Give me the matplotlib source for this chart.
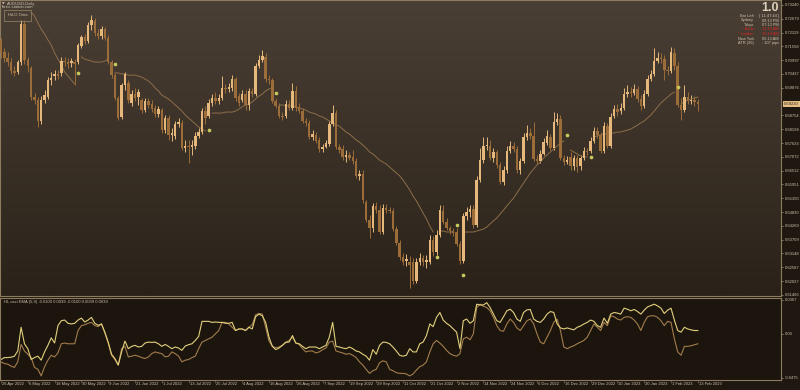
import numpy as np
import matplotlib
matplotlib.use("Agg")
import matplotlib.pyplot as plt
from matplotlib.colors import LinearSegmentedColormap
from matplotlib.transforms import blended_transform_factory

plt.rcParams['font.family'] = ['Liberation Sans', 'DejaVu Sans']

# ---------------- data (prices in 0.0001 units) ----------------
opens = [7182, 7133, 7109, 7092, 7056, 7052, 7092, 7247, 7100, 7068,
         6950, 6938, 6853, 6938, 6950, 7019, 7035, 7044, 7048, 7096,
         7092, 7088, 7092, 7092, 7157, 7194, 7178, 7242, 7259, 7210,
         7198, 7226, 7190, 7092, 7039, 6946, 6869, 6999, 7007, 6926,
         6962, 6950, 6938, 6897, 6934, 6922, 6906, 6881, 6897, 6816,
         6865, 6796, 6792, 6841, 6845, 6743, 6751, 6747, 6751, 6792,
         6808, 6893, 6873, 6926, 6946, 6934, 6946, 6987, 6983, 6987,
         7023, 6954, 6938, 6962, 6918, 6975, 6962, 7076, 7100, 7113,
         7023, 7019, 6934, 6914, 6873, 6873, 6922, 6906, 6975, 6910,
         6893, 6853, 6845, 6788, 6796, 6776, 6739, 6747, 6759, 6841,
         6885, 6747, 6739, 6707, 6715, 6707, 6690, 6630, 6638, 6524,
         6451, 6418, 6508, 6491, 6402, 6500, 6491, 6487, 6414, 6357,
         6301, 6284, 6280, 6280, 6203, 6280, 6297, 6280, 6280, 6370,
         6321, 6390, 6487, 6443, 6418, 6406, 6402, 6353, 6284, 6467,
         6483, 6495, 6431, 6613, 6694, 6751, 6751, 6703, 6727, 6674,
         6605, 6654, 6731, 6751, 6739, 6654, 6690, 6788, 6804, 6792,
         6699, 6690, 6719, 6763, 6788, 6743, 6849, 6861, 6703, 6686,
         6707, 6670, 6703, 6670, 6703, 6731, 6731, 6772, 6812, 6796,
         6731, 6832, 6751, 6873, 6901, 6893, 6906, 6962, 6970, 6966,
         6983, 6942, 6914, 6962, 7023, 7044, 7096, 7109, 7104, 7060,
         7056, 7129, 7076, 6918, 6897, 6950, 6934, 6938, 6930]
highs = [7190, 7149, 7133, 7109, 7076, 7100, 7263, 7263, 7113, 7076,
         6966, 6950, 6954, 6979, 7031, 7052, 7060, 7060, 7113, 7113,
         7109, 7109, 7104, 7169, 7202, 7206, 7255, 7283, 7271, 7226,
         7238, 7234, 7202, 7100, 7048, 6954, 7007, 7052, 7019, 6979,
         6987, 6983, 6946, 6946, 6946, 6938, 6918, 6914, 6906, 6877,
         6877, 6824, 6853, 6865, 6857, 6776, 6776, 6776, 6808, 6824,
         6906, 6914, 6942, 6962, 6970, 6962, 7035, 7003, 7007, 7039,
         7031, 6966, 6979, 6979, 6987, 6987, 7088, 7121, 7141, 7129,
         7039, 7027, 6946, 6926, 6889, 6938, 6938, 7007, 6995, 6926,
         6906, 6865, 6857, 6816, 6808, 6788, 6759, 6776, 6853, 6918,
         6897, 6759, 6755, 6735, 6727, 6735, 6703, 6654, 6654, 6532,
         6471, 6520, 6524, 6512, 6516, 6516, 6504, 6500, 6426, 6370,
         6317, 6313, 6305, 6297, 6297, 6317, 6309, 6309, 6390, 6386,
         6410, 6512, 6512, 6459, 6426, 6418, 6418, 6366, 6479, 6504,
         6512, 6512, 6630, 6743, 6788, 6788, 6776, 6743, 6735, 6686,
         6670, 6751, 6772, 6767, 6751, 6703, 6804, 6836, 6824, 6849,
         6715, 6735, 6784, 6816, 6800, 6889, 6885, 6877, 6715, 6711,
         6727, 6715, 6715, 6715, 6747, 6743, 6788, 6828, 6828, 6808,
         6849, 6845, 6885, 6918, 6922, 6926, 6987, 6999, 6991, 7003,
         6995, 6958, 6979, 7039, 7060, 7149, 7133, 7129, 7121, 7076,
         7153, 7149, 7092, 6946, 6999, 6970, 6958, 6954, 6942]
lows = [7109, 7092, 7076, 7044, 7035, 7044, 7080, 7084, 7052, 6938,
        6922, 6828, 6841, 6926, 6942, 6999, 7019, 7023, 7035, 7076,
        7068, 7072, 6999, 7084, 7149, 7165, 7169, 7222, 7198, 7186,
        7186, 7182, 7084, 7027, 6938, 6857, 6861, 6979, 6926, 6914,
        6934, 6918, 6885, 6889, 6906, 6889, 6869, 6869, 6804, 6804,
        6776, 6772, 6780, 6828, 6735, 6727, 6682, 6715, 6739, 6784,
        6800, 6841, 6865, 6914, 6922, 6922, 6938, 6966, 6970, 6975,
        6934, 6914, 6930, 6897, 6897, 6950, 6954, 7068, 7092, 7011,
        7003, 6926, 6906, 6865, 6857, 6865, 6897, 6897, 6893, 6885,
        6845, 6832, 6780, 6776, 6763, 6727, 6727, 6743, 6751, 6832,
        6739, 6723, 6694, 6686, 6694, 6678, 6621, 6613, 6520, 6443,
        6378, 6402, 6479, 6394, 6394, 6479, 6479, 6406, 6349, 6288,
        6268, 6264, 6175, 6191, 6195, 6268, 6264, 6256, 6272, 6305,
        6309, 6382, 6435, 6410, 6394, 6386, 6345, 6272, 6276, 6451,
        6463, 6418, 6422, 6605, 6682, 6735, 6694, 6686, 6662, 6597,
        6593, 6642, 6723, 6727, 6642, 6638, 6682, 6776, 6780, 6690,
        6678, 6682, 6715, 6755, 6735, 6735, 6836, 6694, 6674, 6678,
        6654, 6654, 6646, 6654, 6694, 6715, 6723, 6763, 6784, 6723,
        6723, 6743, 6743, 6865, 6873, 6881, 6897, 6950, 6950, 6958,
        6930, 6897, 6906, 6954, 7015, 7035, 7088, 7088, 7019, 7039,
        7048, 7060, 6910, 6857, 6889, 6922, 6922, 6914, 6893]
closes = [7133, 7109, 7092, 7056, 7048, 7092, 7247, 7100, 7076, 6950,
          6938, 6853, 6938, 6958, 7019, 7027, 7044, 7035, 7096, 7092,
          7084, 7096, 7084, 7161, 7194, 7178, 7242, 7263, 7210, 7198,
          7226, 7190, 7092, 7039, 6946, 6865, 6999, 7044, 6938, 6962,
          6946, 6970, 6897, 6934, 6918, 6901, 6881, 6901, 6816, 6865,
          6796, 6804, 6841, 6849, 6743, 6751, 6747, 6755, 6792, 6808,
          6893, 6865, 6926, 6946, 6934, 6946, 6987, 6983, 6991, 7023,
          6946, 6926, 6962, 6918, 6975, 6962, 7076, 7100, 7117, 7023,
          7019, 6934, 6914, 6873, 6869, 6922, 6906, 6975, 6906, 6893,
          6853, 6845, 6788, 6800, 6772, 6739, 6747, 6763, 6841, 6885,
          6747, 6735, 6707, 6715, 6703, 6690, 6630, 6638, 6532, 6451,
          6418, 6508, 6491, 6402, 6500, 6491, 6487, 6414, 6357, 6301,
          6280, 6292, 6268, 6203, 6280, 6297, 6280, 6288, 6370, 6321,
          6390, 6491, 6443, 6418, 6406, 6398, 6353, 6284, 6467, 6483,
          6495, 6431, 6613, 6694, 6751, 6755, 6703, 6727, 6674, 6605,
          6654, 6731, 6751, 6739, 6654, 6690, 6788, 6804, 6792, 6699,
          6690, 6719, 6767, 6792, 6743, 6849, 6861, 6703, 6686, 6694,
          6670, 6703, 6666, 6703, 6731, 6727, 6772, 6812, 6796, 6731,
          6832, 6751, 6869, 6901, 6889, 6906, 6962, 6970, 6966, 6983,
          6942, 6914, 6962, 7023, 7044, 7096, 7109, 7104, 7060, 7056,
          7133, 7076, 6918, 6897, 6950, 6934, 6938, 6930, 6922]

# HiLo line (None = break)
hilo_line = [None, None, None, None, None, None, None, None, None, 7295,
             7279, 7251, 7226, 7206, 7182, 7161, 7129, 7104, 7080, 7052,
             7035, 7019, 7003, None, 7113, 7104, 7100, 7096, 7092, 7092,
             7092, 7096, 7104, None, 7048, 7048, 7044, 7044, 7039, 7039,
             7039, 7035, 7031, 7023, 7015, 7003, 6987, 6975, 6958, 6950,
             6942, 6930, 6918, 6906, 6893, 6877, 6865, 6853, 6841, 6828,
             6820, 6812, None, 6885, 6885, 6885, 6885, 6889, 6889, 6889,
             6893, 6901, 6910, 6918, 6922, 6930, 6942, 6954, 6962, 6975,
             6983, 6987, None, 6918, 6918, 6914, 6914, 6914, 6910, 6906,
             6901, 6897, 6889, 6885, 6881, 6873, 6869, 6861, 6853, 6845,
             6836, 6832, 6820, 6808, 6800, 6788, 6776, 6767, 6755, 6743,
             6727, 6719, 6707, 6694, 6686, 6678, 6666, 6654, 6642, 6630,
             6613, 6593, 6573, 6548, 6528, 6504, 6479, 6455, 6426, 6402,
             None, 6406, 6406, 6402, 6402, 6402, None, None, 6402, 6402,
             6402, 6402, 6406, 6410, 6414, 6422, 6435, 6447, 6459, 6475,
             6491, 6508, 6524, 6540, 6560, 6581, 6601, 6621, 6642, 6658,
             6674, 6686, 6703, 6715, 6727, 6739, 6751, 6763, 6772, None,
             6735, 6727, 6719, 6711, 6707, 6707, None, 6788, 6792, 6796,
             6800, 6800, 6804, 6804, 6808, 6808, 6812, 6816, 6820, 6828,
             6836, 6845, 6853, 6865, 6877, 6893, 6910, 6926, 6938, 6950,
             6962, 6970, None, 6922, 6930, 6938, 6942, 6946, 6950]
signal_bars = [23, 34, 62, 82, 130, 136, 138, 169, 176, 202]
signal_prices = [7048, 7084, 6816, 6966, 6301, 6431, 6227, 6796, 6707, 6991]

# oscillator lines (0.0001 units)
osc_fast = [-276, -255, -255, -251, -240, -184, 72, -106, -159, -276,
            -255, -240, -283, -194, -123, -42, -98, 90, 143, 150,
            115, 108, 115, 150, 171, 129, 150, 179, 115, 93,
            108, 19, -88, -219, -265, -336, -194, -77, -159, -134,
            -123, -141, -134, -98, -88, -91, -88, -106, -134, -113,
            -134, -159, -141, -152, -177, -130, -116, -106, -70, -27,
            136, 136, 136, 125, 129, 125, 125, 115, 115, 125,
            37, 54, 54, 37, 72, 54, 186, 214, 196, 125,
            -35, -134, -169, -152, -123, -91, -88, -17, -98, -106,
            -134, -159, -141, -141, -141, -159, -141, -123, -35, 125,
            -134, -141, -152, -159, -141, -159, -184, -194, -219, -240,
            -283, -169, -219, -123, -88, -91, -106, -141, -184, -230,
            -240, -230, -159, -194, -194, -106, -88, -17, 108, 79,
            179, 232, 150, 115, 90, 54, 19, -159, 143, 161,
            115, 143, 321, 313, 313, 338, 285, 214, 143, 125,
            186, 250, 267, 232, 161, 136, 232, 260, 264, 161,
            136, 125, 161, 214, 242, 232, 108, 65, 54, 65,
            54, 44, 72, 86, 108, 125, 150, 136, 90, 72,
            171, 115, 214, 232, 225, 214, 278, 267, 250, 264,
            242, 214, 257, 292, 306, 321, 303, 278, 221, 257,
            278, 150, 37, 19, 72, 54, 44, 37, 37]
osc_slow = [-301, -319, -326, -347, -361, -301, -113, -184, -219, -255,
            -361, -382, -453, -354, -283, -230, -248, -205, -106, -98,
            -106, -106, -106, 37, 90, 100, 115, 125, 90, 79,
            108, 8, -98, -230, -276, -336, -159, -134, -248, -240,
            -230, -240, -255, -265, -248, -212, -194, -205, -212, -248,
            -240, -194, -212, -240, -301, -283, -276, -255, -240, -159,
            -88, -70, -52, -35, 1, 37, 125, 125, 108, 72,
            37, 54, 54, 37, 72, 100, 207, 221, 214, 72,
            -77, -134, -148, -141, -123, -88, -70, -35, -98, -113,
            -159, -194, -184, -184, -205, -194, -169, -152, -88, -77,
            -184, -194, -205, -219, -212, -230, -255, -301, -336, -382,
            -425, -397, -382, -311, -290, -301, -382, -397, -418, -425,
            -425, -432, -453, -432, -390, -354, -336, -301, -194, -106,
            -70, -98, -134, -177, -212, -230, -240, -212, -52, -35,
            -63, 1, 285, 321, 299, 285, 250, 179, 90, 37,
            29, 108, 161, 125, 65, 37, 90, 143, 161, 108,
            1, -88, -106, -35, 37, 125, 161, 37, -141, -159,
            -141, -127, -106, -88, -70, -35, 37, 108, 72, 37,
            125, 90, 196, 186, 161, 150, 179, 186, 179, 150,
            108, 37, 125, 186, 196, 196, 179, 143, 90, 136,
            125, -52, -194, -230, -134, -134, -127, -116, -106]

# right-axis price labels (0.69315 is hidden behind the current-price box)
price_tick_labels = ['0.73240', '0.72679', '0.72119', '0.71558', '0.70997', '0.70437',
                     '0.69876', '0.68754', '0.68194', '0.67633', '0.67072',
                     '0.66512', '0.65951', '0.65390', '0.64830', '0.64269', '0.63709',
                     '0.63148', '0.62587', '0.62027', '0.61466']
osc_tick_labels = ['0.0367', '0.00', '-0.0475']
date_labels = ['26 Apr 2022', '6 May 2022', '18 May 2022', '30 May 2022', '9 Jun 2022',
               '21 Jun 2022', '1 Jul 2022', '13 Jul 2022', '25 Jul 2022', '4 Aug 2022',
               '16 Aug 2022', '26 Aug 2022', '7 Sep 2022', '19 Sep 2022', '29 Sep 2022',
               '11 Oct 2022', '21 Oct 2022', '2 Nov 2022', '14 Nov 2022', '24 Nov 2022',
               '6 Dec 2022', '16 Dec 2022', '29 Dec 2022', '10 Jan 2023', '20 Jan 2023',
               '1 Feb 2023', '13 Feb 2023']
info_left = ['Bar Left', 'Sydney', 'Tokyo', '* Berlin', '* London', 'New York', 'ATR (20)']
info_right = [': [ 11:47:44 ]', '09:13 PM', '07:13 PM', '11:13 AM', '10:13 AM', '05:13 AM', ': 107 pips']
info_red = [False, False, False, True, True, False, False]

# ---------------- styling ----------------
W, H = 800, 390
BG = '#1f1810'
BORDER = '#8c7b5f'
TXT = '#cdc1ab'
BULL = '#e6b87c'
BEAR = '#9c6c39'

fig = plt.figure(figsize=(W / 100, H / 100), dpi=100)
fig.patch.set_facecolor(BG)


def rect(x0, y0, x1, y1):
    return [x0 / W, 1 - y1 / H, (x1 - x0) / W, (y1 - y0) / H]


ax = fig.add_axes(rect(0, 0, 781, 296))
ax2 = fig.add_axes(rect(0, 298, 781, 380))

o = np.array(opens) / 1e4
h = np.array(highs) / 1e4
l = np.array(lows) / 1e4
c = np.array(closes) / 1e4
n = len(c)
xs = np.arange(n)

px_bar = 3.35
xlo = -1 / px_bar
xhi = xlo + 781 / px_bar
ylo, yhi = 0.61422, 0.73440

# gradient background
cmap = LinearSegmentedColormap.from_list('bg', ['#2a2219', '#4a3f35'])
ax.imshow(np.linspace(0, 1, 256).reshape(-1, 1), extent=[xlo, xhi, ylo, yhi],
          aspect='auto', origin='lower', cmap=cmap, zorder=0)

up = c >= o
ax.vlines(xs[up], l[up], h[up], color=BULL, lw=0.7, zorder=2)
ax.vlines(xs[~up], l[~up], h[~up], color=BEAR, lw=0.7, zorder=2)
body = np.maximum(np.abs(c - o), 0.00012)
bot = np.minimum(o, c)
ax.bar(xs[up], body[up], bottom=bot[up], width=0.72, color=BULL, lw=0, zorder=3)
ax.bar(xs[~up], body[~up], bottom=bot[~up], width=0.72, color=BEAR, lw=0, zorder=3)

ma = np.array([np.nan if v is None else v / 1e4 for v in hilo_line])
ax.plot(xs, ma, color='#8d6e4a', lw=0.7, zorder=2.5)
ax.scatter(signal_bars, np.array(signal_prices) / 1e4, s=7, color='#c8c85c',
           lw=0, zorder=4)

ax.set_xlim(xlo, xhi)
ax.set_ylim(ylo, yhi)
ax.set_xticks([])
ax.yaxis.tick_right()
ax.set_yticks([float(s) for s in price_tick_labels])
ax.set_yticklabels(price_tick_labels)
ax.tick_params(axis='y', labelsize=3, colors=TXT, length=1.5, width=0.4, pad=1.2)
for sp in ax.spines.values():
    sp.set_color(BORDER)
    sp.set_linewidth(0.8)

# current price label
tr = blended_transform_factory(ax.transAxes, ax.transData)
ax.text(1.004, c[-1], f'{c[-1]:.5f}', transform=tr, fontsize=3, color='#2a2017',
        va='center', ha='left', clip_on=False, zorder=6,
        bbox=dict(boxstyle='square,pad=0.25', fc='#e6bf86', ec='none'))

# ---------------- oscillator ----------------
ax2.set_facecolor('#1c150e')
ax2.plot(xs, np.array(osc_slow) / 1e4, color='#a27c4c', lw=0.8)
ax2.plot(xs, np.array(osc_fast) / 1e4, color='#e2cf7c', lw=0.8)
ax2.set_xlim(xlo, xhi)
ax2.set_ylim(-0.0497, 0.0388)
ax2.yaxis.tick_right()
ax2.set_yticks([float(s) for s in osc_tick_labels])
ax2.set_yticklabels(osc_tick_labels)
ax2.tick_params(axis='y', labelsize=3, colors=TXT, length=1.5, width=0.4, pad=1.2)
tick_bars = np.arange(0, 8 * len(date_labels), 8)
ax2.set_xticks(tick_bars)
ax2.set_xticklabels([])
ax2.tick_params(axis='x', length=2.5, width=0.4, colors=BORDER, direction='out')
trx = blended_transform_factory(ax2.transData, ax2.transAxes)
for b, s in zip(tick_bars, date_labels):
    ax2.text(b + 0.3, -0.05, s, transform=trx, fontsize=3, color=TXT,
             ha='left', va='center', clip_on=False)
for sp in ax2.spines.values():
    sp.set_color(BORDER)
    sp.set_linewidth(0.8)
ax2.text(0.005, 0.975, 'HL osci EMA (5,9) -0.0100 0.0039 -0.0100 0.0039 0.0039',
         transform=ax2.transAxes, fontsize=3, color=TXT, va='top', ha='left')

# ---------------- header texts ----------------
fig.text(2 / W, 1 - 3.5 / H, '\u25bc', fontsize=2.5, color=TXT, va='center', ha='left',
         family=['DejaVu Sans'])
fig.text(7 / W, 1 - 3.5 / H, 'AUDUSD,Daily', fontsize=3, color=TXT, va='center', ha='left')
fig.text(1.5 / W, 1 - 7.5 / H, 'forex-station.com', fontsize=3, color=TXT, va='center', ha='left')
fig.text(17.5 / W, 1 - 15.5 / H, 'HiLO Oma', fontsize=3, color=TXT, va='center', ha='center',
         bbox=dict(boxstyle='square,pad=0.8', fc='none', ec=BORDER, lw=0.6))

fig.text(779 / W, 1 - 8 / H, '1.0', fontsize=9, fontweight='bold', color='#dcd0ba',
         va='center', ha='right')
for k, (a, b, red) in enumerate(zip(info_left, info_right, info_red)):
    yy = 1 - (16 + 4.5 * k) / H
    col = '#e02424' if red else TXT
    fig.text(754 / W, yy, a, fontsize=2.8, color=col, va='center', ha='right')
    fig.text(779 / W, yy, b, fontsize=2.8, color=col, va='center', ha='right')

fig.savefig('out.png', dpi=100, facecolor=fig.get_facecolor())
